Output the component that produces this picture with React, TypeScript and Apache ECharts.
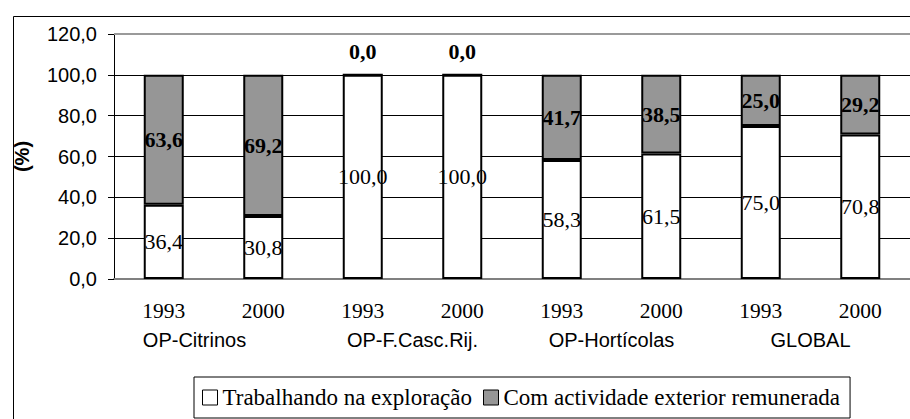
import React, { useEffect, useRef } from "react";
import * as echarts from "echarts";

const categories = ["1993", "2000", "1993", "2000", "1993", "2000", "1993", "2000"];
const groups = ["OP-Citrinos", "OP-F.Casc.Rij.", "OP-Hortícolas", "GLOBAL"];
const trabalhando = [36.4, 30.8, 100.0, 100.0, 58.3, 61.5, 75.0, 70.8];
const exterior = [63.6, 69.2, 0.0, 0.0, 41.7, 38.5, 25.0, 29.2];
const seriesNames = ["Trabalhando na exploração", "Com actividade exterior remunerada"];

const fmt = (v: number) => v.toFixed(1).replace(".", ",");
const SERIF = "Liberation Serif";
const SANS = "Liberation Sans";

export default function App() {
  const ref = useRef<HTMLDivElement>(null);
  useEffect(() => {
    if (!ref.current) return;
    const chart = echarts.init(ref.current, undefined, { renderer: "svg" });
    chart.setOption({
      animation: false,
      backgroundColor: "#fff",
      graphic: [
        {
          type: "rect",
          left: 11,
          top: 14,
          shape: { width: 930, height: 430 },
          style: { fill: "none", stroke: "#000", lineWidth: 1 },
          z: -1,
        },
      ],
      grid: { left: 114, top: 34, bottom: 140, right: -10 },
      legend: {
        left: 194,
        top: 377,
        padding: [9, 10, 9, 8],
        borderColor: "#000",
        borderWidth: 1,
        itemWidth: 15,
        itemHeight: 15,
        itemGap: 11,
        icon: "rect",
        textStyle: { fontFamily: SERIF, fontSize: 23, color: "#000" },
        itemStyle: { borderColor: "#000", borderWidth: 1 },
        data: seriesNames,
      },
      xAxis: [
        {
          type: "category",
          data: categories,
          axisLine: { lineStyle: { color: "#808080", width: 2 } },
          axisTick: { length: 6, lineStyle: { color: "#333" } },
          axisLabel: { fontFamily: SERIF, fontSize: 21.5, color: "#000", margin: 21 },
        },
        {
          type: "category",
          position: "bottom",
          data: groups.map((g, i) =>
            i === 0 ? { value: g, textStyle: { padding: [0, 38, 0, 0] } } : g
          ),
          axisLine: { show: false },
          axisTick: { show: false },
          axisLabel: { fontFamily: SANS, fontSize: 20, color: "#000", margin: 51 },
        },
      ],
      yAxis: {
        type: "value",
        min: 0,
        max: 120,
        interval: 20,
        name: "(%)",
        nameLocation: "middle",
        nameRotate: 90,
        nameGap: 82,
        nameTextStyle: { fontFamily: SANS, fontSize: 20, fontWeight: "bold", color: "#000" },
        axisLine: { show: true, lineStyle: { color: "#000", width: 1 } },
        axisTick: { show: true, length: 6, lineStyle: { color: "#000" } },
        axisLabel: {
          fontFamily: SANS,
          fontSize: 20,
          color: "#000",
          margin: 17,
          formatter: (v: number) => fmt(v),
        },
        splitLine: { showMaxLine: false, lineStyle: { color: "#000", width: 1 } },
      },
      series: [
        {
          name: seriesNames[0],
          type: "bar",
          stack: "total",
          barWidth: 40,
          xAxisIndex: 0,
          data: trabalhando,
          itemStyle: { color: "#fff", borderColor: "#000", borderWidth: 2 },
          label: {
            show: true,
            position: "inside",
            fontFamily: SERIF,
            fontSize: 22,
            color: "#000",
            formatter: (p: any) => fmt(p.value),
          },
          markLine: {
            silent: true,
            symbol: "none",
            label: { show: false },
            lineStyle: { color: "#9a9a9a", width: 2, type: "solid" },
            data: [{ yAxis: 120 }],
          },
        },
        {
          name: seriesNames[1],
          type: "bar",
          stack: "total",
          barWidth: 40,
          xAxisIndex: 0,
          data: exterior.map((v) =>
            v === 0 ? { value: v, label: { position: "top", distance: 11 } } : v
          ),
          itemStyle: { color: "#969696", borderColor: "#000", borderWidth: 2 },
          label: {
            show: true,
            position: "inside",
            fontFamily: SERIF,
            fontSize: 22,
            fontWeight: "bold",
            color: "#000",
            formatter: (p: any) => fmt(p.value),
          },
        },
      ],
    });
    return () => chart.dispose();
  }, []);
  return (
    <div
      ref={ref}
      style={{ position: "fixed", left: 0, top: 0, width: 910, height: 419 }}
    />
  );
}
